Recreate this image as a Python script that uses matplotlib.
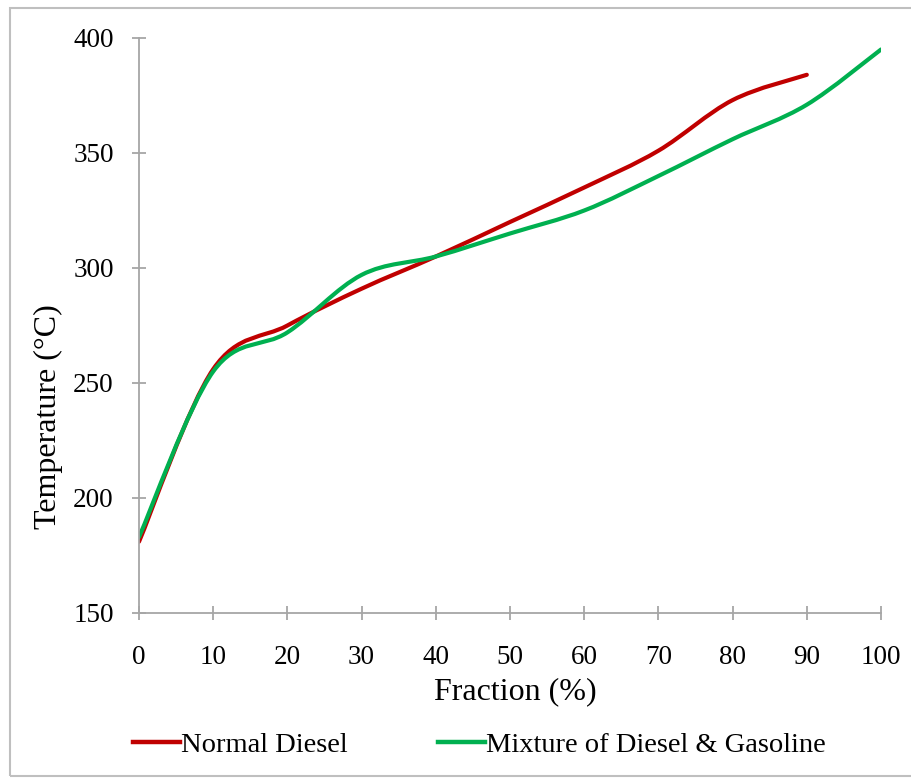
import matplotlib
matplotlib.use('Agg')
import matplotlib.pyplot as plt
from matplotlib.path import Path
from matplotlib.patches import PathPatch, Rectangle
from matplotlib.lines import Line2D
import numpy as np

# Distillation curves
fraction_diesel = [0, 10, 20, 30, 40, 50, 60, 70, 80, 90]
temp_diesel = [181, 256, 275, 291, 305, 320, 335, 351, 373, 384]
fraction_mix = [0, 10, 20, 30, 40, 50, 60, 70, 80, 90, 100]
temp_mix = [183, 255, 272, 297, 305, 315, 325, 340, 356, 371, 395]

RED = '#C00000'
GREEN = '#00B050'
GREY = '#A6A6A6'
plt.rcParams['font.family'] = ['Liberation Serif', 'DejaVu Serif']


def smooth_path(xs, ys):
    # Excel-style smoothed line: cubic bezier segments through every point
    pts = np.column_stack([xs, ys]).astype(float)
    verts = [pts[0]]
    codes = [Path.MOVETO]
    n = len(pts)
    for i in range(n - 1):
        p0 = pts[max(i - 1, 0)]
        p1 = pts[i]
        p2 = pts[i + 1]
        p3 = pts[min(i + 2, n - 1)]
        c1 = p1 + (p2 - p0) / 6.0
        c2 = p2 - (p3 - p1) / 6.0
        verts += [c1, c2, p2]
        codes += [Path.CURVE4] * 3
    return Path(verts, codes)


fig = plt.figure(figsize=(9.12, 7.78), dpi=100)
# chart area border (runs off the right edge as in the source image)
fig.patches.append(Rectangle((10 / 912, 2 / 778), 1.0, 768 / 778, transform=fig.transFigure,
                             fill=False, edgecolor='#BFBFBF', linewidth=1.5))
ax = fig.add_axes([139 / 912, 1 - 613 / 778, 742 / 912, 575 / 778])

for xs, ys, col in [(fraction_diesel, temp_diesel, RED), (fraction_mix, temp_mix, GREEN)]:
    ax.add_patch(PathPatch(smooth_path(xs, ys), fill=False, edgecolor=col, linewidth=3.0,
                           capstyle='round', joinstyle='round'))

ax.set_xlim(0, 100)
ax.set_ylim(150, 400)
ax.set_xticks(range(0, 101, 10))
ax.set_yticks(range(150, 401, 50))
ax.spines['top'].set_visible(False)
ax.spines['right'].set_visible(False)
for s in ['left', 'bottom']:
    ax.spines[s].set_color(GREY)
    ax.spines[s].set_linewidth(1.3)
ax.tick_params(direction='inout', length=10.5, width=1.3, color=GREY, labelsize=19.5)
ax.tick_params(axis='x', pad=17.5)
ax.tick_params(axis='y', pad=13)
ax.set_xlabel('Fraction (%)', fontsize=23)
ax.set_ylabel('Temperature (°C)', fontsize=23)
ax.xaxis.set_label_coords((515 - 139) / 742, (613 - 692) / 575)
ax.xaxis.label.set_va('center')
ax.yaxis.set_label_coords((48 - 139) / 742, (613 - 417) / 575)
ax.yaxis.label.set_va('center')

handles = [Line2D([], [], color=RED, linewidth=3.2), Line2D([], [], color=GREEN, linewidth=3.2)]
fig.legend(handles, ['Normal Diesel', 'Mixture of Diesel & Gasoline'], ncol=2, frameon=False,
           loc='center left', bbox_to_anchor=(133 / 912, 1 - 745 / 778), fontsize=20.5,
           handlelength=1.65, handletextpad=0.05, columnspacing=3.15, borderpad=0,
           borderaxespad=0)

fig.savefig('out.png', dpi=100)
